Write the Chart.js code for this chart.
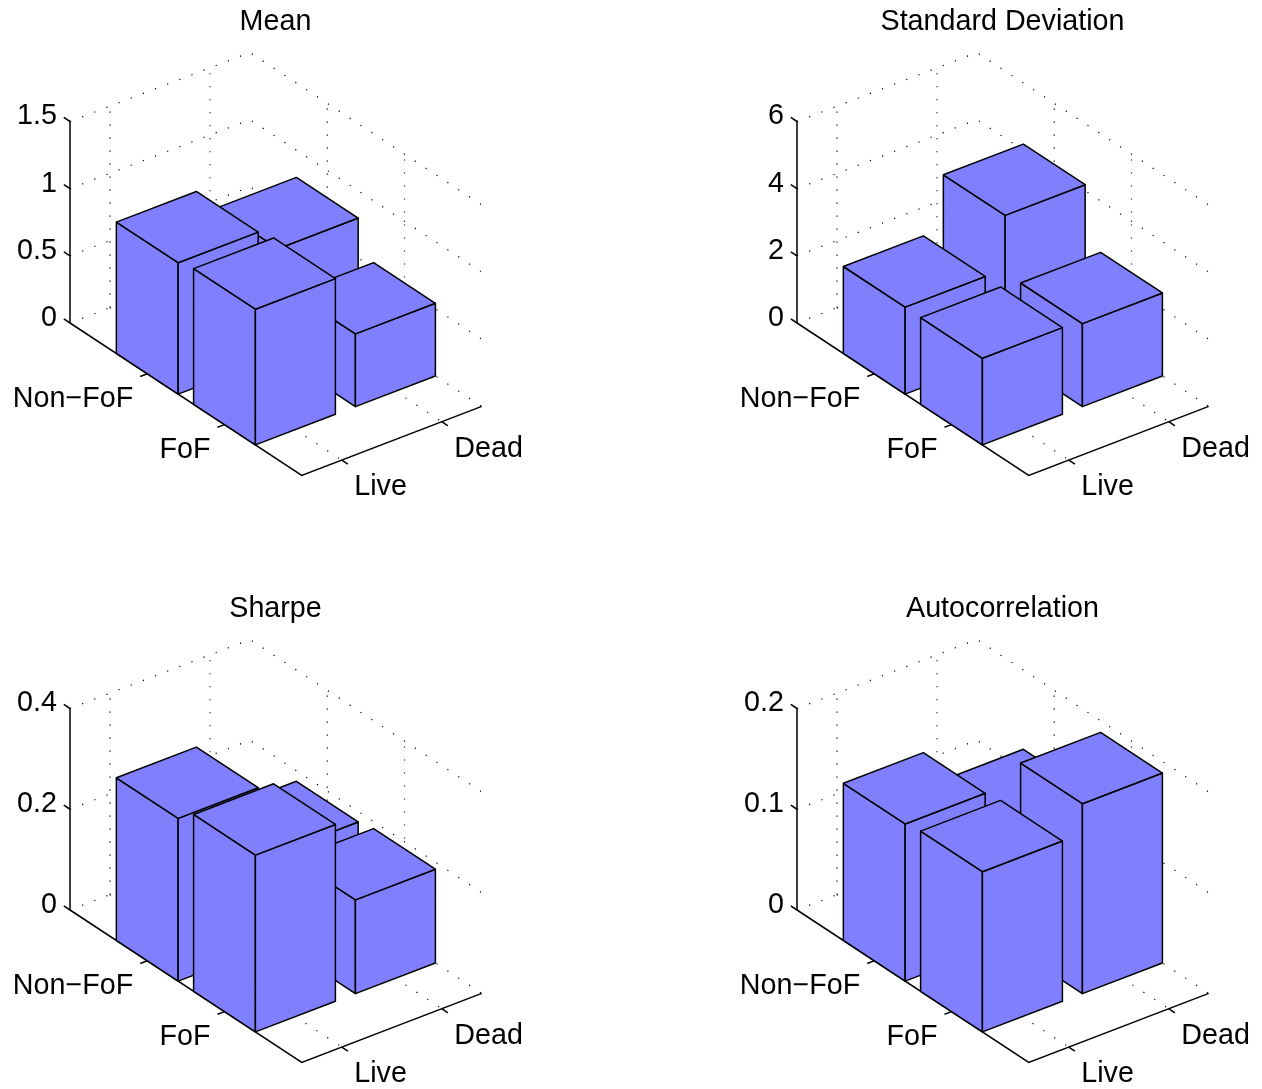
<!DOCTYPE html>
<html>
<head>
<meta charset="utf-8">
<style>
html,body{margin:0;padding:0;background:#fff;width:1262px;height:1089px;overflow:hidden}
canvas{position:absolute;display:block}
</style>
<script src="https://cdn.jsdelivr.net/npm/chart.js@4"></script>
</head>
<body>
<script>
// ---- data ----
const rowLabels = ['Non\u2212FoF', 'FoF'];
const colLabels = ['Live', 'Dead'];

const meanNonFoF = [0.978, 0.797];
const meanFoF    = [1.01, 0.541];
const meanTicks  = ['0', '0.5', '1', '1.5'];

const stdNonFoF = [2.59, 4.18];
const stdFoF    = [2.58, 2.47];
const stdTicks  = ['0', '2', '4', '6'];

const sharpeNonFoF = [0.323, 0.179];
const sharpeFoF    = [0.351, 0.186];
const sharpeTicks  = ['0', '0.2', '0.4'];

const autoNonFoF = [0.156, 0.1213];
const autoFoF    = [0.159, 0.1885];
const autoTicks  = ['0', '0.1', '0.2'];

const panels = [
  {title:'Mean', nonFoF:meanNonFoF, fof:meanFoF, ticks:meanTicks, left:0, top:0},
  {title:'Standard Deviation', nonFoF:stdNonFoF, fof:stdFoF, ticks:stdTicks, left:727, top:0},
  {title:'Sharpe', nonFoF:sharpeNonFoF, fof:sharpeFoF, ticks:sharpeTicks, left:0, top:587},
  {title:'Autocorrelation', nonFoF:autoNonFoF, fof:autoFoF, ticks:autoTicks, left:727, top:587}
];

// ---- view: an oblique 3-D projection, in pixels per axis unit ----
const VIEW = {rowX:77.25, colX:100, rowDrop:50.8, colRise:38.33, zSpan:201.5, rowMax:3, colMin:0.6, colMax:2.4, barHalf:0.4};
const AREA = {width:535, height:510, left:70, plotW:411, top:52, zeroY:323, bottom:476};
const FONT = {family:'"Liberation Sans", Arial, sans-serif', size:28.7};

function projector(zMax){
  const k = zMax / VIEW.zSpan;
  return (r, c, z) => ({
    x: VIEW.rowX * r + VIEW.colX * (c - VIEW.colMin),
    y: z + k * (-VIEW.rowDrop * r + VIEW.colRise * (c - VIEW.colMin))
  });
}

function buildDatasets(p){
  const zVals = p.ticks.map(Number);
  const zMax = zVals[zVals.length - 1];
  const P = projector(zMax);
  const {rowMax:R, colMin:C0, colMax:C1, barHalf:H} = VIEW;
  const list = [];
  const line = (pts, dotted) => list.push({
    data: pts.map(q => P(q[0], q[1], q[2])),
    borderColor: '#000',
    borderWidth: dotted ? 1.2 : 1.5,
    borderDash: dotted ? [1.2, 11.8] : [],
    fill: false
  });
  // dotted grid on the two back walls and the floor
  zVals.forEach(z => {
    line([[0,C0,z],[0,C1,z],[R,C1,z]], true);
  });
  [1,2].forEach(c => {
    line([[0,c,0],[0,c,zMax]], true);
    line([[0,c,0],[R,c,0]], true);
  });
  [1,2].forEach(r => {
    line([[r,C1,0],[r,C1,zMax]], true);
    line([[r,C0,0],[r,C1,0]], true);
  });
  // solid axes and ticks
  line([[0,C0,zMax],[0,C0,0],[R,C0,0],[R,C1,0]], false);
  zVals.forEach(z => line([[0,C0,z],[-0.08,C0,z]], false));
  [1,2].forEach(r => line([[r,C0,0],[r,C0-0.07,0]], false));
  [1,2].forEach(c => line([[R,c,0],[R+0.08,c,0]], false));
  // bars back to front
  const face = pts => list.push({
    data: pts.concat([pts[0]]).map(q => P(q[0], q[1], q[2])),
    borderColor:'#000', borderWidth:1.5, backgroundColor:'#8080ff', fill:'shape', borderJoinStyle:'round'
  });
  const bar = (r, c, h) => {
    const r0=r-H, r1=r+H, c0=c-H, c1=c+H;
    face([[r0,c0,0],[r1,c0,0],[r1,c0,h],[r0,c0,h]]);
    face([[r1,c0,0],[r1,c1,0],[r1,c1,h],[r1,c0,h]]);
    face([[r0,c0,h],[r1,c0,h],[r1,c1,h],[r0,c1,h]]);
  };
  bar(1, 2, p.nonFoF[1]);
  bar(1, 1, p.nonFoF[0]);
  bar(2, 2, p.fof[1]);
  bar(2, 1, p.fof[0]);
  return list.map((d,i) => Object.assign(d, {
    order: list.length - i, pointRadius:0, pointHoverRadius:0, tension:0, clip:false, parsing:true
  }));
}

const categoryLabels = {
  id:'categoryLabels',
  afterDraw(chart, args, opts){
    const {ctx, scales:{x, y}} = chart;
    const P = opts.project;
    ctx.save();
    ctx.fillStyle = '#000';
    ctx.font = FONT.size + 'px ' + FONT.family;
    ctx.textBaseline = 'middle';
    ctx.textAlign = 'right';
    rowLabels.forEach((t,i) => {
      const q = P(i+1, VIEW.colMin, 0);
      ctx.fillText(t, x.getPixelForValue(q.x) - 14, y.getPixelForValue(q.y) + 25.5);
    });
    ctx.textAlign = 'left';
    colLabels.forEach((t,i) => {
      const q = P(VIEW.rowMax, i+1, 0);
      ctx.fillText(t, x.getPixelForValue(q.x) + 12.5, y.getPixelForValue(q.y) + 27.5);
    });
    ctx.restore();
  }
};

panels.forEach(p => {
  const canvas = document.createElement('canvas');
  canvas.style.left = p.left + 'px';
  canvas.style.top = p.top + 'px';
  canvas.style.width = AREA.width + 'px';
  canvas.style.height = AREA.height + 'px';
  canvas.width = AREA.width; canvas.height = AREA.height;
  document.body.appendChild(canvas);
  const zVals = p.ticks.map(Number);
  const zMax = zVals[zVals.length-1];
  const perPx = zMax / VIEW.zSpan;
  new Chart(canvas, {
    type:'line',
    data:{datasets:buildDatasets(p)},
    plugins:[categoryLabels],
    options:{
      responsive:false, animation:false, devicePixelRatio:1,
      events:[],
      layout:{padding:{left:0, top:0, right:AREA.width-AREA.left-AREA.plotW, bottom:AREA.height-AREA.bottom}},
      plugins:{
        legend:{display:false}, tooltip:{enabled:false},
        title:{display:true, text:p.title, color:'#000', fullSize:false, font:{family:FONT.family, size:FONT.size, weight:'normal', lineHeight:1.2}, padding:{top:5, bottom:AREA.top-5-FONT.size*1.2}},
        categoryLabels:{project:projector(zMax)}
      },
      scales:{
        x:{type:'linear', display:false, min:0, max:AREA.plotW},
        y:{
          type:'linear',
          min:-(AREA.bottom-AREA.zeroY)*perPx,
          max:(AREA.zeroY-AREA.top)*perPx,
          grid:{display:false, drawTicks:false},
          border:{display:false},
          afterBuildTicks(s){ s.ticks = zVals.map(v => ({value:v})); },
          afterFit(s){ s.width = AREA.left; },
          ticks:{
            autoSkip:false, padding:13, color:'#000', labelOffset:-5, maxRotation:0,
            font:{family:FONT.family, size:FONT.size},
            callback(v){ return p.ticks[zVals.indexOf(v)]; }
          }
        }
      }
    }
  });
});
</script>
</body>
</html>
